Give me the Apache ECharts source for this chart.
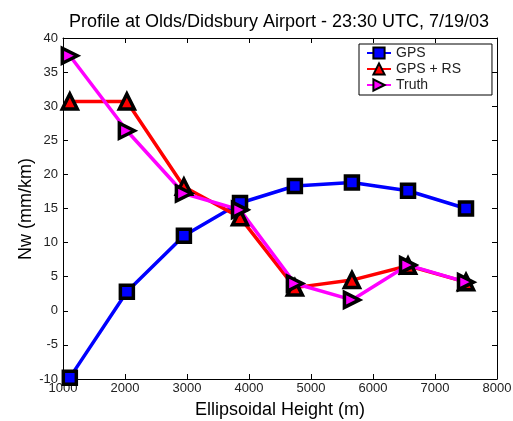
<!DOCTYPE html>
<html><head><meta charset="utf-8">
<script src="https://cdn.jsdelivr.net/npm/echarts@6/dist/echarts.min.js"></script>
<style>html,body{margin:0;padding:0;background:#fff}#c{width:513px;height:421px}</style>
</head><body><div id="c"></div>
<script>
const heights = [1110, 2030, 2950, 3855, 4740, 5660, 6565, 7500];
const gps     = [-9.8, 2.8, 11.0, 15.8, 18.3, 18.8, 17.6, 15.0];
const gpsRs   = [30.7, 30.7, 18.2, 13.7, 3.4, 4.5, 6.6, 4.2];
const truth   = [37.4, 26.4, 17.2, 14.8, 4.0, 1.6, 6.7, 4.2];
const xTicks = [1000, 2000, 3000, 4000, 5000, 6000, 7000, 8000];
const yTicks = [-10, -5, 0, 5, 10, 15, 20, 25, 30, 35, 40];

const pairs = a => heights.map((h, i) => [h, a[i]]);
const font = 'Arial, "Liberation Sans", sans-serif';
const axisLine = {show: true, onZero: false, lineStyle: {color: '#000', width: 1}};
const tick = {show: true, inside: true, length: 5, lineStyle: {color: '#000'}};
const lbl = {color: '#222', fontFamily: font, fontSize: 13, formatter: v => String(v)};

const chart = echarts.init(document.getElementById('c'));
chart.setOption({
  animation: false,
  title: {
    text: 'Profile at Olds/Didsbury Airport - 23:30 UTC, 7/19/03',
    left: 274, top: 8, textAlign: 'center',
    textStyle: {fontFamily: font, fontSize: 18, fontWeight: 'normal', color: '#000'}
  },
  grid: {left: 63, right: 16, top: 38, bottom: 42, outerBoundsMode: 'none', containLabel: false},
  graphic: [{
    type: 'text', x: 26, y: 209, rotation: Math.PI / 2,
    style: {text: 'Nw (mm/km)', fontFamily: font, fontSize: 18, fill: '#000',
            align: 'center', verticalAlign: 'middle'}
  }],
  legend: {
    left: 359, top: 44,
    orient: 'vertical', itemGap: 2, itemWidth: 24, itemHeight: 14,
    padding: [2, 31, 3, 7],
    borderColor: '#000', borderWidth: 1, backgroundColor: '#fff',
    textStyle: {fontFamily: font, fontSize: 14, color: '#222'},
    data: ['GPS', 'GPS + RS', 'Truth']
  },
  xAxis: [{
    type: 'value', min: xTicks[0], max: xTicks[xTicks.length - 1], interval: 1000,
    name: 'Ellipsoidal Height (m)', nameLocation: 'middle', nameGap: 22,
    nameTextStyle: {fontFamily: font, fontSize: 18, color: '#000'},
    axisLine, axisTick: tick, splitLine: {show: false},
    axisLabel: Object.assign({margin: 3}, lbl)
  }, {
    type: 'value', position: 'top', min: xTicks[0], max: xTicks[xTicks.length - 1], interval: 1000,
    axisLine, axisTick: tick, splitLine: {show: false}, axisLabel: {show: false}
  }],
  yAxis: [{
    type: 'value', min: yTicks[0], max: yTicks[yTicks.length - 1], interval: 5,
    axisLine, axisTick: tick, splitLine: {show: false},
    axisLabel: Object.assign({margin: 5}, lbl)
  }, {
    type: 'value', position: 'right', min: yTicks[0], max: yTicks[yTicks.length - 1], interval: 5,
    axisLine, axisTick: tick, splitLine: {show: false}, axisLabel: {show: false}
  }],
  series: [{
    name: 'GPS', type: 'line', data: pairs(gps),
    symbol: 'rect', symbolSize: 13,
    lineStyle: {color: '#0000ff', width: 3.5},
    itemStyle: {color: '#0000ff', borderColor: '#000', borderWidth: 3.5}
  }, {
    name: 'GPS + RS', type: 'line', data: pairs(gpsRs),
    symbol: 'triangle', symbolSize: 15,
    lineStyle: {color: '#ff0000', width: 3.5},
    itemStyle: {color: '#ff0000', borderColor: '#000', borderWidth: 3.5}
  }, {
    name: 'Truth', type: 'line', data: pairs(truth),
    symbol: 'triangle', symbolSize: 15, symbolRotate: -90,
    lineStyle: {color: '#ff00ff', width: 3.5},
    itemStyle: {color: '#ff00ff', borderColor: '#000', borderWidth: 3.5}
  }]
});
</script></body></html>
